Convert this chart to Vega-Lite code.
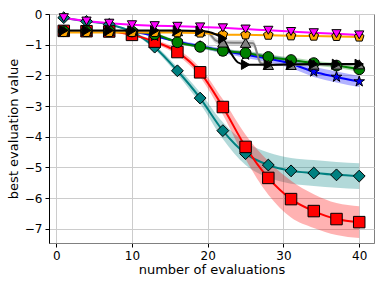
{
  "$schema": "https://vega.github.io/schema/vega-lite/v6.json",
  "width": 325,
  "height": 229,
  "autosize": "none",
  "padding": {"left": 49, "top": 14, "right": 7, "bottom": 43},
  "config": {
    "view": {"stroke": "#808080", "strokeWidth": 1},
    "font": "DejaVu Sans",
    "axis": {
      "gridColor": "#cccccc", "gridWidth": 1, "tickColor": "#000000", "tickSize": 4,
      "labelFont": "DejaVu Sans", "labelFontSize": 12, "labelColor": "#000000",
      "titleFont": "DejaVu Sans", "titleFontSize": 13, "titleFontWeight": "normal", "titleColor": "#000000"
    }
  },
  "data": {"values": [
    {"s":"teal","x":1,"y":-0.12,"lo":-0.14,"hi":-0.10},
    {"s":"teal","x":4,"y":-0.24,"lo":-0.26,"hi":-0.22},
    {"s":"teal","x":7,"y":-0.34,"lo":-0.36,"hi":-0.32},
    {"s":"teal","x":10,"y":-0.58,"lo":-0.62,"hi":-0.54},
    {"s":"teal","x":13,"y":-1.08,"lo":-1.16,"hi":-1.0},
    {"s":"teal","x":16,"y":-1.85,"lo":-1.97,"hi":-1.73},
    {"s":"teal","x":19,"y":-2.74,"lo":-2.92,"hi":-2.56},
    {"s":"teal","x":22,"y":-3.8,"lo":-4.07,"hi":-3.53},
    {"s":"teal","x":25,"y":-4.55,"lo":-4.92,"hi":-4.18},
    {"s":"teal","x":28,"y":-4.92,"lo":-5.33,"hi":-4.51},
    {"s":"teal","x":31,"y":-5.11,"lo":-5.53,"hi":-4.69},
    {"s":"teal","x":34,"y":-5.18,"lo":-5.6,"hi":-4.76},
    {"s":"teal","x":37,"y":-5.24,"lo":-5.66,"hi":-4.82},
    {"s":"teal","x":40,"y":-5.28,"lo":-5.7,"hi":-4.86},
    {"s":"red","x":1,"y":-0.55,"lo":-0.55,"hi":-0.55},
    {"s":"red","x":4,"y":-0.56,"lo":-0.56,"hi":-0.56},
    {"s":"red","x":7,"y":-0.57,"lo":-0.58,"hi":-0.56},
    {"s":"red","x":10,"y":-0.68,"lo":-0.71,"hi":-0.65},
    {"s":"red","x":13,"y":-0.9,"lo":-0.96,"hi":-0.84},
    {"s":"red","x":16,"y":-1.24,"lo":-1.34,"hi":-1.14},
    {"s":"red","x":19,"y":-1.9,"lo":-2.05,"hi":-1.75},
    {"s":"red","x":22,"y":-3.03,"lo":-3.28,"hi":-2.78},
    {"s":"red","x":25,"y":-4.33,"lo":-4.73,"hi":-3.93},
    {"s":"red","x":28,"y":-5.34,"lo":-5.89,"hi":-4.79},
    {"s":"red","x":31,"y":-6.03,"lo":-6.63,"hi":-5.43},
    {"s":"red","x":34,"y":-6.42,"lo":-6.97,"hi":-5.87},
    {"s":"red","x":37,"y":-6.68,"lo":-7.2,"hi":-6.16},
    {"s":"red","x":40,"y":-6.78,"lo":-7.3,"hi":-6.26},
    {"s":"blue","x":1,"y":-0.56,"lo":-0.56,"hi":-0.56},
    {"s":"blue","x":4,"y":-0.56,"lo":-0.56,"hi":-0.56},
    {"s":"blue","x":7,"y":-0.56,"lo":-0.57,"hi":-0.55},
    {"s":"blue","x":10,"y":-0.58,"lo":-0.6,"hi":-0.56},
    {"s":"blue","x":13,"y":-0.72,"lo":-0.75,"hi":-0.69},
    {"s":"blue","x":16,"y":-0.9,"lo":-0.95,"hi":-0.85},
    {"s":"blue","x":19,"y":-1.05,"lo":-1.11,"hi":-0.99},
    {"s":"blue","x":22,"y":-1.2,"lo":-1.28,"hi":-1.12},
    {"s":"blue","x":25,"y":-1.33,"lo":-1.43,"hi":-1.23},
    {"s":"blue","x":28,"y":-1.45,"lo":-1.57,"hi":-1.33},
    {"s":"blue","x":31,"y":-1.62,"lo":-1.77,"hi":-1.47},
    {"s":"blue","x":34,"y":-1.88,"lo":-2.05,"hi":-1.71},
    {"s":"blue","x":37,"y":-2.05,"lo":-2.23,"hi":-1.87},
    {"s":"blue","x":40,"y":-2.2,"lo":-2.38,"hi":-2.02},
    {"s":"green","x":1,"y":-0.56,"lo":-0.56,"hi":-0.56},
    {"s":"green","x":4,"y":-0.56,"lo":-0.56,"hi":-0.56},
    {"s":"green","x":7,"y":-0.56,"lo":-0.57,"hi":-0.55},
    {"s":"green","x":10,"y":-0.57,"lo":-0.59,"hi":-0.55},
    {"s":"green","x":13,"y":-0.66,"lo":-0.7,"hi":-0.62},
    {"s":"green","x":16,"y":-0.92,"lo":-0.97,"hi":-0.87},
    {"s":"green","x":19,"y":-1.07,"lo":-1.12,"hi":-1.02},
    {"s":"green","x":22,"y":-1.2,"lo":-1.26,"hi":-1.14},
    {"s":"green","x":25,"y":-1.27,"lo":-1.34,"hi":-1.2},
    {"s":"green","x":28,"y":-1.4,"lo":-1.48,"hi":-1.32},
    {"s":"green","x":31,"y":-1.5,"lo":-1.58,"hi":-1.42},
    {"s":"green","x":34,"y":-1.6,"lo":-1.68,"hi":-1.52},
    {"s":"green","x":37,"y":-1.68,"lo":-1.76,"hi":-1.6},
    {"s":"green","x":40,"y":-1.8,"lo":-1.88,"hi":-1.72},
    {"s":"grey","x":1,"y":-0.56,"lo":-0.56,"hi":-0.56},
    {"s":"grey","x":4,"y":-0.56,"lo":-0.56,"hi":-0.56},
    {"s":"grey","x":7,"y":-0.56,"lo":-0.56,"hi":-0.56},
    {"s":"grey","x":10,"y":-0.56,"lo":-0.56,"hi":-0.56},
    {"s":"grey","x":13,"y":-0.56,"lo":-0.56,"hi":-0.56},
    {"s":"grey","x":16,"y":-0.56,"lo":-0.56,"hi":-0.56},
    {"s":"grey","x":19,"y":-0.56,"lo":-0.58,"hi":-0.54},
    {"s":"grey","x":20,"y":-0.6,"lo":-0.68,"hi":-0.54},
    {"s":"grey","x":21,"y":-0.85,"lo":-0.95,"hi":-0.75},
    {"s":"grey","x":22,"y":-0.93,"lo":-1.02,"hi":-0.84},
    {"s":"grey","x":25,"y":-0.94,"lo":-1.03,"hi":-0.85},
    {"s":"grey","x":26,"y":-0.95,"lo":-1.08,"hi":-0.85},
    {"s":"grey","x":27,"y":-1.6,"lo":-1.7,"hi":-1.5},
    {"s":"grey","x":28,"y":-1.66,"lo":-1.7,"hi":-1.62},
    {"s":"grey","x":31,"y":-1.66,"lo":-1.68,"hi":-1.64},
    {"s":"grey","x":34,"y":-1.65,"lo":-1.66,"hi":-1.64},
    {"s":"grey","x":37,"y":-1.65,"lo":-1.66,"hi":-1.64},
    {"s":"grey","x":40,"y":-1.64,"lo":-1.65,"hi":-1.63},
    {"s":"orange","x":1,"y":-0.6,"lo":-0.6,"hi":-0.6},
    {"s":"orange","x":4,"y":-0.6,"lo":-0.6,"hi":-0.6},
    {"s":"orange","x":7,"y":-0.6,"lo":-0.6,"hi":-0.6},
    {"s":"orange","x":10,"y":-0.6,"lo":-0.6,"hi":-0.6},
    {"s":"orange","x":13,"y":-0.6,"lo":-0.6,"hi":-0.6},
    {"s":"orange","x":16,"y":-0.61,"lo":-0.62,"hi":-0.6},
    {"s":"orange","x":19,"y":-0.62,"lo":-0.63,"hi":-0.61},
    {"s":"orange","x":22,"y":-0.67,"lo":-0.69,"hi":-0.65},
    {"s":"orange","x":25,"y":-0.68,"lo":-0.7,"hi":-0.66},
    {"s":"orange","x":28,"y":-0.69,"lo":-0.71,"hi":-0.67},
    {"s":"orange","x":31,"y":-0.71,"lo":-0.73,"hi":-0.69},
    {"s":"orange","x":34,"y":-0.72,"lo":-0.74,"hi":-0.7},
    {"s":"orange","x":37,"y":-0.73,"lo":-0.75,"hi":-0.71},
    {"s":"orange","x":40,"y":-0.75,"lo":-0.77,"hi":-0.73},
    {"s":"black","x":1,"y":-0.54,"lo":-0.54,"hi":-0.54},
    {"s":"black","x":4,"y":-0.54,"lo":-0.54,"hi":-0.54},
    {"s":"black","x":7,"y":-0.54,"lo":-0.54,"hi":-0.54},
    {"s":"black","x":10,"y":-0.54,"lo":-0.54,"hi":-0.54},
    {"s":"black","x":13,"y":-0.54,"lo":-0.54,"hi":-0.54},
    {"s":"black","x":16,"y":-0.54,"lo":-0.54,"hi":-0.54},
    {"s":"black","x":19,"y":-0.55,"lo":-0.55,"hi":-0.55},
    {"s":"black","x":20,"y":-0.58,"lo":-0.58,"hi":-0.58},
    {"s":"black","x":21,"y":-0.66,"lo":-0.66,"hi":-0.66},
    {"s":"black","x":22,"y":-0.8,"lo":-0.8,"hi":-0.8},
    {"s":"black","x":23,"y":-1.25,"lo":-1.25,"hi":-1.25},
    {"s":"black","x":24,"y":-1.58,"lo":-1.58,"hi":-1.58},
    {"s":"black","x":25,"y":-1.65,"lo":-1.65,"hi":-1.65},
    {"s":"black","x":28,"y":-1.65,"lo":-1.65,"hi":-1.65},
    {"s":"black","x":31,"y":-1.64,"lo":-1.64,"hi":-1.64},
    {"s":"black","x":34,"y":-1.63,"lo":-1.63,"hi":-1.63},
    {"s":"black","x":37,"y":-1.63,"lo":-1.63,"hi":-1.63},
    {"s":"black","x":40,"y":-1.63,"lo":-1.63,"hi":-1.63},
    {"s":"magenta","x":1,"y":-0.12,"lo":-0.12,"hi":-0.12},
    {"s":"magenta","x":4,"y":-0.23,"lo":-0.23,"hi":-0.23},
    {"s":"magenta","x":7,"y":-0.3,"lo":-0.3,"hi":-0.3},
    {"s":"magenta","x":10,"y":-0.35,"lo":-0.35,"hi":-0.35},
    {"s":"magenta","x":13,"y":-0.38,"lo":-0.38,"hi":-0.38},
    {"s":"magenta","x":16,"y":-0.4,"lo":-0.4,"hi":-0.4},
    {"s":"magenta","x":19,"y":-0.42,"lo":-0.42,"hi":-0.42},
    {"s":"magenta","x":22,"y":-0.45,"lo":-0.45,"hi":-0.45},
    {"s":"magenta","x":25,"y":-0.49,"lo":-0.49,"hi":-0.49},
    {"s":"magenta","x":28,"y":-0.53,"lo":-0.53,"hi":-0.53},
    {"s":"magenta","x":31,"y":-0.57,"lo":-0.57,"hi":-0.57},
    {"s":"magenta","x":34,"y":-0.61,"lo":-0.61,"hi":-0.61},
    {"s":"magenta","x":37,"y":-0.64,"lo":-0.64,"hi":-0.64},
    {"s":"magenta","x":40,"y":-0.68,"lo":-0.68,"hi":-0.68}
  ]},
  "encoding": {
    "x": {"field": "x", "type": "quantitative",
      "scale": {"domain": [-0.95, 41.95], "nice": false, "zero": false},
      "axis": {"values": [0, 10, 20, 30, 40], "title": "number of evaluations", "domainColor": "#808080", "titlePadding": 2, "labelPadding": 3}},
    "y": {"field": "y", "type": "quantitative",
      "scale": {"domain": [-7.46, 0], "nice": false, "zero": false},
      "axis": {"values": [0, -1, -2, -3, -4, -5, -6, -7], "title": "best evaluation value", "domainColor": "#000000", "titlePadding": 4, "labelPadding": 3}},
    "color": {"field": "s", "type": "nominal", "legend": null,
      "scale": {"domain": ["teal","red","blue","green","grey","orange","black","magenta"],
                "range": ["#008080","#ff0000","#0000ff","#008000","#808080","#ffa500","#000000","#ff00ff"]}}
  },
  "layer": [
    {"mark": {"type": "area", "opacity": 0.3, "interpolate": "monotone"},
     "encoding": {"y": {"field": "lo", "type": "quantitative"}, "y2": {"field": "hi"}}},
    {"mark": {"type": "line", "strokeWidth": 2, "interpolate": "monotone"}},
    {"transform": [{"filter": "(datum.x - 1) % 3 == 0"}],
     "mark": {"type": "point", "filled": true, "stroke": "#000000", "strokeWidth": 1, "opacity": 1},
     "encoding": {
       "fill": {"field": "s", "type": "nominal", "legend": null,
         "scale": {"domain": ["teal","red","blue","green","grey","orange","black","magenta"],
                   "range": ["#008080","#ff0000","#0000ff","#008000","#808080","#ffa500","#000000","#ff00ff"]}},
       "shape": {"field": "s", "type": "nominal", "legend": null,
         "scale": {"domain": ["teal","red","blue","green","grey","orange","black","magenta"],
                   "range": ["diamond","square","M0,-1L0.225,-0.309L0.951,-0.309L0.363,0.118L0.588,0.809L0,0.382L-0.588,0.809L-0.363,0.118L-0.951,-0.309L-0.225,-0.309Z","circle","triangle-up","M0,-1L0.951,-0.309L0.588,0.809L-0.588,0.809L-0.951,-0.309Z","triangle-right","triangle-down"]}},
       "size": {"field": "s", "type": "nominal", "legend": null,
         "scale": {"domain": ["teal","red","blue","green","grey","orange","black","magenta"],
                   "range": [140, 85, 95, 85, 90, 90, 90, 95]}}
     }}
  ]
}
